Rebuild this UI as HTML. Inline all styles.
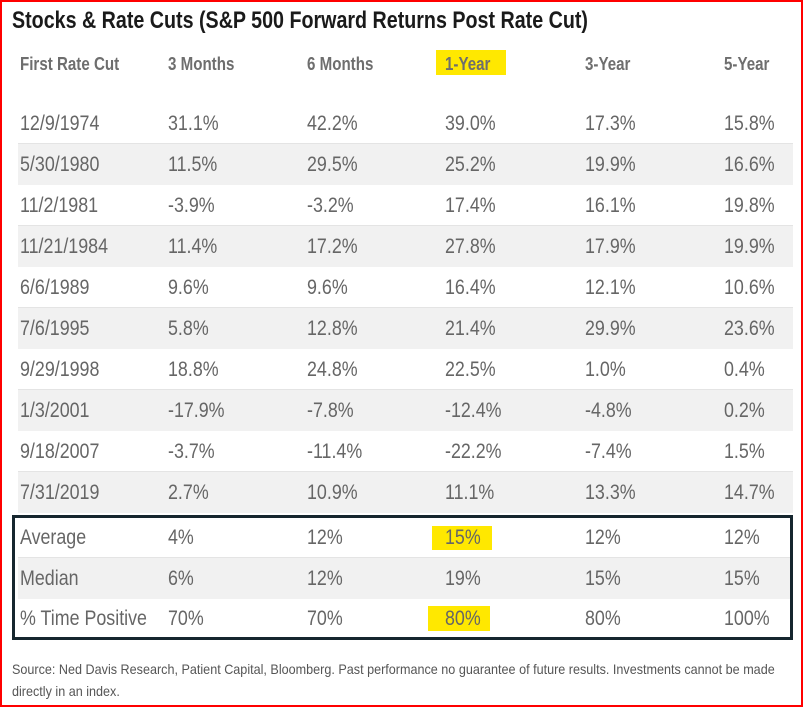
<!DOCTYPE html>
<html><head><meta charset="utf-8">
<style>
body{margin:0;width:803px;height:707px;position:relative;background:#fff;overflow:hidden;font-family:"Liberation Sans",sans-serif}
#frame{position:absolute;left:0;top:0;width:799px;height:703px;border:2px solid #f00;border-right-width:2px}
.t{position:absolute;white-space:nowrap;transform-origin:0 50%;}
.c{font-size:21px;color:#666;transform:scaleX(0.85);line-height:24px}
.h{font-size:18px;font-weight:bold;color:#6e6e6e;transform:scaleX(0.84);line-height:22px}
.band{position:absolute;left:18px;width:775px;height:41px;background:#f1f1f1;border-top:1px solid #e4e4e4}
.hl{position:absolute;background:#ffe800}
</style></head><body>
<div id="frame"></div>
<div class="t" style="left:12px;top:6px;font-size:24px;font-weight:bold;color:#1a1a1a;transform:scaleX(0.82);line-height:30px">Stocks &amp; Rate Cuts (S&amp;P 500 Forward Returns Post Rate Cut)</div>
<div class="hl" style="left:436px;top:50px;width:70px;height:25px"></div>
<div class="hl" style="left:432px;top:526px;width:60px;height:24px"></div>
<div class="hl" style="left:428px;top:606px;width:62px;height:25px"></div>
<div id="tbl"></div>
<div style="position:absolute;left:12px;top:515px;width:775px;height:119px;border:3px solid #16262e"></div>
<div class="t" style="left:12px;top:658px;font-size:14px;color:#555;line-height:22px;transform:scaleX(0.9)">Source: Ned Davis Research, Patient Capital, Bloomberg. Past performance no guarantee of future results. Investments cannot be made<br>directly in an index.</div>
<script>
const headers=["First Rate Cut","3 Months","6 Months","1-Year","3-Year","5-Year"];
const dates=["12/9/1974","5/30/1980","11/2/1981","11/21/1984","6/6/1989","7/6/1995","9/29/1998","1/3/2001","9/18/2007","7/31/2019"];
const m3=["31.1%","11.5%","-3.9%","11.4%","9.6%","5.8%","18.8%","-17.9%","-3.7%","2.7%"];
const m6=["42.2%","29.5%","-3.2%","17.2%","9.6%","12.8%","24.8%","-7.8%","-11.4%","10.9%"];
const y1=["39.0%","25.2%","17.4%","27.8%","16.4%","21.4%","22.5%","-12.4%","-22.2%","11.1%"];
const y3=["17.3%","19.9%","16.1%","17.9%","12.1%","29.9%","1.0%","-4.8%","-7.4%","13.3%"];
const y5=["15.8%","16.6%","19.8%","19.9%","10.6%","23.6%","0.4%","0.2%","1.5%","14.7%"];
const summaryLabels=["Average","Median","% Time Positive"];
const sum3=["4%","6%","70%"],sum6=["12%","12%","70%"],sum1=["15%","19%","80%"],sumy3=["12%","15%","80%"],sumy5=["12%","15%","100%"];
const colX=[20,168,307,445,585,724];
const tbl=document.getElementById('tbl');
function txt(cls,x,y,s){const d=document.createElement('div');d.className='t '+cls;d.style.left=x+'px';d.style.top=y+'px';d.textContent=s;tbl.appendChild(d);return d;}
headers.forEach((h,i)=>{const d=txt('h',colX[i],53,h);

});
const rows=dates.map((d,i)=>[d,m3[i],m6[i],y1[i],y3[i],y5[i]]).concat(summaryLabels.map((l,i)=>[l,sum3[i],sum6[i],sum1[i],sumy3[i],sumy5[i]]));
rows.forEach((r,i)=>{
  const top=i<10?102+i*41:516+(i-10)*40.5;
  if(i%2===1){const b=document.createElement('div');b.className='band';b.style.top=top+'px';
  
  
  tbl.appendChild(b);}
  r.forEach((v,j)=>{const d=txt('c',colX[j],top+10,v);
  
  });
});
</script>
</body></html>
